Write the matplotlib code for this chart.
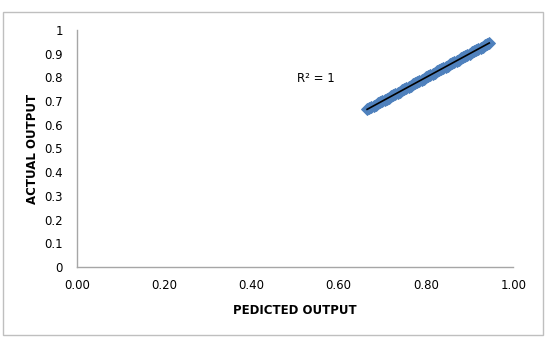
import matplotlib.pyplot as plt
from matplotlib.patches import Rectangle

# Predicted vs actual output (x equals y)
predicted = [0.665, 0.670, 0.675, 0.680, 0.685, 0.690, 0.695, 0.700, 0.705, 0.710,
             0.715, 0.720, 0.725, 0.730, 0.735, 0.740, 0.745, 0.750, 0.755, 0.760,
             0.765, 0.770, 0.775, 0.780, 0.785, 0.790, 0.795, 0.800, 0.805, 0.810,
             0.815, 0.820, 0.825, 0.830, 0.835, 0.840, 0.845, 0.850, 0.855, 0.860,
             0.865, 0.870, 0.875, 0.880, 0.885, 0.890, 0.895, 0.900, 0.905, 0.910,
             0.915, 0.920, 0.925, 0.930, 0.935, 0.940, 0.945]
actual = [0.665, 0.670, 0.675, 0.680, 0.685, 0.690, 0.695, 0.700, 0.705, 0.710,
          0.715, 0.720, 0.725, 0.730, 0.735, 0.740, 0.745, 0.750, 0.755, 0.760,
          0.765, 0.770, 0.775, 0.780, 0.785, 0.790, 0.795, 0.800, 0.805, 0.810,
          0.815, 0.820, 0.825, 0.830, 0.835, 0.840, 0.845, 0.850, 0.855, 0.860,
          0.865, 0.870, 0.875, 0.880, 0.885, 0.890, 0.895, 0.900, 0.905, 0.910,
          0.915, 0.920, 0.925, 0.930, 0.935, 0.940, 0.945]
x_ticks = [0.0, 0.2, 0.4, 0.6, 0.8, 1.0]
y_ticks = [0, 0.1, 0.2, 0.3, 0.4, 0.5, 0.6, 0.7, 0.8, 0.9, 1]

fig = plt.figure(figsize=(5.46, 3.37), dpi=100)
fig.patches.append(Rectangle((0.006, 0.006), 0.988, 0.958, transform=fig.transFigure,
                             fill=False, edgecolor='#bfbfbf', linewidth=1))
ax = fig.add_axes([0.141, 0.208, 0.799, 0.703])

ax.scatter(predicted, actual, marker='D', s=36, color='#4f81bd', edgecolors='#4f81bd',
           linewidths=0.8, zorder=2)
ax.plot([predicted[0], predicted[-1]], [actual[0], actual[-1]], color='black', linewidth=1.2, zorder=3)
ax.text(0.505, 0.797, 'R² = 1', fontsize=8.5, ha='left', va='center')

ax.set_xlim(0, 1)
ax.set_ylim(0, 1)
ax.set_xticks(x_ticks)
ax.set_xticklabels(['%.2f' % v for v in x_ticks])
ax.set_yticks(y_ticks)
ax.set_yticklabels([('%g' % v) for v in y_ticks])
ax.tick_params(length=0, labelsize=8.5, pad=9)
ax.tick_params(axis='y', pad=10)
for side in ['top', 'right']:
    ax.spines[side].set_visible(False)
for side in ['left', 'bottom']:
    ax.spines[side].set_color('#a6a6a6')
    ax.spines[side].set_linewidth(1)

ax.set_xlabel('PEDICTED OUTPUT', fontsize=8.5, fontweight='bold', labelpad=8)
ax.set_ylabel('ACTUAL OUTPUT', fontsize=8.5, fontweight='bold', labelpad=4)

fig.savefig('out.png', dpi=100)
